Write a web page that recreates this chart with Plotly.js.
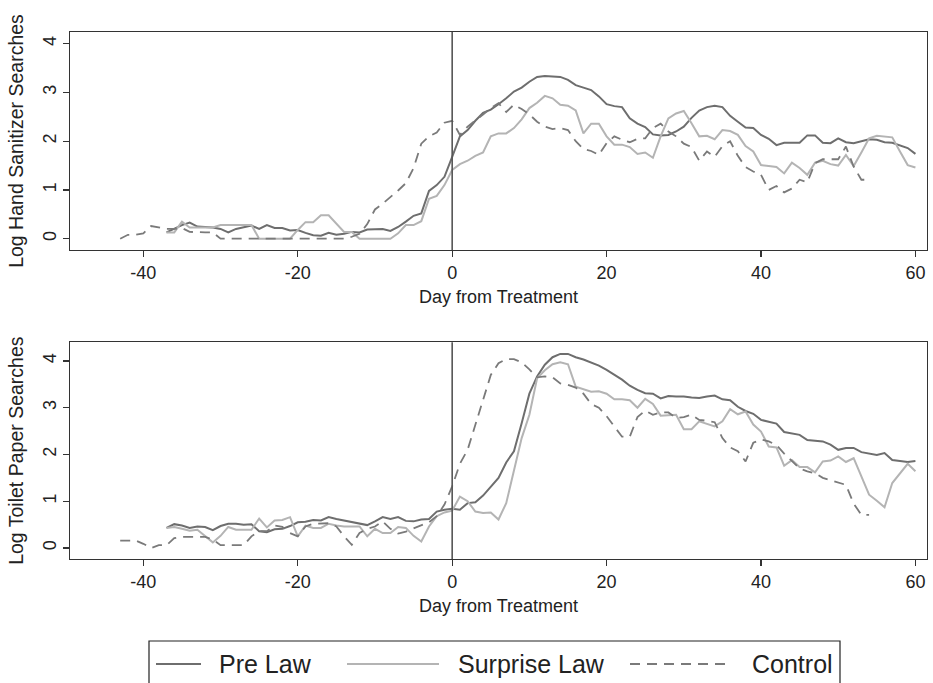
<!DOCTYPE html>
<html>
<head>
<meta charset="utf-8">
<script src="https://cdn.plot.ly/plotly-3.0.1.min.js"></script>
<style>html,body{margin:0;padding:0;background:#fff}#chart{width:933px;height:683px}</style>
</head>
<body>
<div id="chart"></div>
<script>
// ---- Data ----
var seriesNames = ["Pre Law", "Surprise Law", "Control"];
var xTickVals = [-40, -20, 0, 20, 40, 60];
var yTickVals = [0, 1, 2, 3, 4];
var xTitle = "Day from Treatment";
var topTitle = "Log Hand Sanitizer Searches";
var bottomTitle = "Log Toilet Paper Searches";

// first day of each series (one value per day afterwards)
var startPre = -37, startSurprise = -37, startControl = -43;

var handPre = [0.13,0.2,0.28,0.33,0.25,0.24,0.23,0.2,0.13,0.2,
  0.24,0.27,0.2,0.28,0.22,0.22,0.17,0.18,0.12,0.07,
  0.06,0.12,0.08,0.1,0.14,0.13,0.19,0.2,0.2,0.16,
  0.24,0.35,0.47,0.52,0.98,1.1,1.27,
  1.68,2.1,2.23,2.42,2.58,2.65,2.76,2.88,3.02,3.1,
  3.22,3.32,3.34,3.33,3.32,3.26,3.15,3.1,3.05,2.92,
  2.76,2.72,2.7,2.47,2.36,2.29,2.14,2.12,2.13,2.2,
  2.3,2.48,2.63,2.7,2.73,2.7,2.52,2.4,2.28,2.27,
  2.13,2.05,1.92,1.97,1.97,1.97,2.12,2.12,1.97,1.96,
  2.06,1.98,1.96,2.0,2.04,2.03,1.98,1.97,1.92,1.86,
  1.74];
var handSurprise = [0.13,0.13,0.35,0.23,0.23,0.23,0.23,0.28,0.28,0.28,
  0.28,0.28,0,0,0,0,0,0.18,0.34,0.34,
  0.48,0.48,0.3,0.14,0.14,0,0,0,0,0,
  0.11,0.28,0.28,0.36,0.82,0.88,1.1,
  1.41,1.53,1.6,1.7,1.77,2.1,2.16,2.16,2.27,2.45,
  2.68,2.79,2.93,2.88,2.75,2.73,2.63,2.16,2.36,2.36,
  2.1,1.93,1.93,1.88,1.74,1.77,1.66,2.1,2.47,2.57,
  2.62,2.37,2.1,2.11,2.04,2.23,2.21,2.13,1.9,1.79,
  1.51,1.49,1.47,1.34,1.56,1.45,1.31,1.56,1.6,1.53,
  1.5,1.72,1.49,1.77,2.06,2.11,2.1,2.08,1.79,1.51,
  1.46];
var handControl = [0,0.08,0.08,0.11,0.26,0.23,0.2,0.2,0.22,0.14,
  0.13,0.13,0.13,0,0,0,0,0,0,0,
  0,0,0,0,0,0,0,0,0,0,
  0.04,0.1,0.3,0.6,0.72,0.85,0.99,1.14,1.45,1.95,
  2.1,2.18,2.38,2.42,2.13,2.3,2.42,2.55,2.68,2.78,
  2.6,2.75,2.66,2.55,2.4,2.3,2.25,2.27,2.23,2.0,
  1.84,1.8,1.72,1.96,2.1,2.03,1.98,2.05,2.06,2.27,
  2.36,2.2,2.1,1.95,1.88,1.6,1.79,1.68,1.9,2.0,
  1.7,1.47,1.38,1.31,1.0,1.08,0.95,1.03,1.21,1.16,
  1.55,1.63,1.63,1.63,1.89,1.48,1.21,1.21];

var paperPre = [0.43,0.51,0.48,0.43,0.46,0.45,0.38,0.47,0.52,0.52,
  0.5,0.51,0.36,0.34,0.4,0.41,0.47,0.55,0.56,0.6,
  0.59,0.66,0.62,0.59,0.56,0.53,0.49,0.57,0.66,0.62,
  0.66,0.58,0.57,0.61,0.62,0.78,0.82,
  0.84,0.82,0.96,0.98,1.12,1.32,1.5,1.83,2.07,2.67,
  3.3,3.67,3.92,4.08,4.15,4.15,4.08,4.03,3.97,3.9,
  3.81,3.7,3.6,3.47,3.38,3.31,3.3,3.2,3.25,3.24,
  3.24,3.22,3.21,3.24,3.26,3.18,3.16,3.02,2.93,2.87,
  2.74,2.7,2.66,2.48,2.45,2.42,2.31,2.29,2.28,2.21,
  2.1,2.14,2.14,2.05,2.02,1.99,2.03,1.88,1.86,1.84,
  1.86];
var paperSurprise = [0.43,0.45,0.41,0.37,0.39,0.26,0.12,0.26,0.45,0.39,
  0.39,0.39,0.63,0.44,0.59,0.6,0.66,0.25,0.48,0.43,
  0.43,0.52,0.48,0.46,0.46,0.46,0.25,0.41,0.32,0.32,
  0.45,0.43,0.26,0.14,0.46,0.68,0.76,
  0.8,1.1,1.0,0.78,0.75,0.76,0.61,0.96,1.67,2.35,
  2.85,3.63,3.8,3.93,3.97,3.93,3.45,3.4,3.34,3.35,
  3.3,3.18,3.18,3.16,3.0,3.19,3.08,2.83,2.84,2.85,
  2.54,2.54,2.71,2.66,2.6,2.71,2.97,2.86,2.92,2.64,
  2.49,2.17,2.15,1.76,1.88,1.73,1.73,1.62,1.85,1.87,
  1.96,1.84,1.92,1.53,1.14,1.01,0.87,1.39,1.59,1.8,
  1.64];
var paperControl = [0.16,0.16,0.16,0.09,0,0.06,0.06,0.21,0.24,0.24,
  0.24,0.24,0.18,0.06,0.06,0.06,0.06,0.25,0.36,0.36,
  0.48,0.45,0.32,0.25,0.46,0.52,0.52,0.53,0.46,0.25,
  0.07,0.32,0.41,0.46,0.57,0.41,0.31,0.35,0.42,0.48,
  0.55,0.68,0.93,1.32,1.8,2.1,2.64,3.2,3.7,3.95,
  4.04,4.04,3.97,3.82,3.65,3.67,3.65,3.52,3.49,3.43,
  3.3,3.08,3.0,2.82,2.6,2.38,2.38,2.8,2.94,2.85,
  2.9,2.9,2.78,2.8,2.85,2.74,2.72,2.69,2.35,2.15,
  2.07,1.85,2.25,2.32,2.28,2.2,2.02,1.85,1.7,1.64,
  1.6,1.5,1.45,1.41,1.35,0.95,0.71,0.71];

// ---- Build chart ----
function days(start, n) { var a = []; for (var i = 0; i < n; i++) a.push(start + i); return a; }

var FONT = "Liberation Sans, Arial, Helvetica, sans-serif";
var styles = [
  {color: "#6e6e6e", width: 2, dash: "solid"},
  {color: "#b4b4b4", width: 2, dash: "solid"},
  {color: "#7a7a7a", width: 1.8, dash: "10px,7px"}
];

function tr(x, y, k, xa, ya) {
  return {x: x, y: y, type: "scatter", mode: "lines", name: seriesNames[k],
    line: {color: styles[k].color, width: styles[k].width, dash: styles[k].dash},
    xaxis: xa, yaxis: ya, showlegend: false, hoverinfo: "x+y"};
}

var data = [
  tr(days(startPre, handPre.length), handPre, 0, "x", "y"),
  tr(days(startSurprise, handSurprise.length), handSurprise, 1, "x", "y"),
  tr(days(startControl, handControl.length), handControl, 2, "x", "y"),
  tr(days(startPre, paperPre.length), paperPre, 0, "x2", "y2"),
  tr(days(startSurprise, paperSurprise.length), paperSurprise, 1, "x2", "y2"),
  tr(days(startControl, paperControl.length), paperControl, 2, "x2", "y2")
];

var axisLine = "#333333";
function xAxis(anchor, domainMatch) {
  return {anchor: anchor, range: [-49.5, 61.5], tickvals: xTickVals, ticktext: xTickVals.map(String),
    showgrid: false, zeroline: false, showline: true, mirror: true, linecolor: axisLine, linewidth: 1.3,
    ticks: "outside", ticklen: 6, tickcolor: axisLine, tickwidth: 1.3,
    tickfont: {family: FONT, size: 18, color: "#222"},
    title: {text: xTitle, font: {family: FONT, size: 18, color: "#222"}, standoff: 8}};
}
function yAxis(anchor, domain, range, title) {
  return {anchor: anchor, domain: domain, range: range, tickvals: yTickVals, ticktext: yTickVals.map(String),
    showgrid: false, zeroline: false, showline: true, mirror: true, linecolor: axisLine, linewidth: 1.3,
    ticks: "outside", ticklen: 6, tickcolor: axisLine, tickwidth: 1.3, tickangle: -90,
    tickfont: {family: FONT, size: 18, color: "#222"},
    title: {text: title, font: {family: FONT, size: 19.5, color: "#222"}, standoff: 10}};
}

var L = 70, R = 6, T = 32, B = 124, W = 933, H = 683;
var pw = W - L - R, ph = H - T - B;
function px2x(p) { return (p - L) / pw; }
function py2y(p) { return (H - B - p) / ph; }

var shapes = [
  {type: "line", xref: "x", yref: "y domain", x0: 0, x1: 0, y0: 0, y1: 1, line: {color: "#555", width: 1.6}},
  {type: "line", xref: "x2", yref: "y2 domain", x0: 0, x1: 0, y0: 0, y1: 1, line: {color: "#555", width: 1.6}},
  // legend frame
  {type: "rect", xref: "paper", yref: "paper", x0: px2x(149), x1: px2x(840), y0: py2y(641), y1: py2y(700),
   line: {color: "#222", width: 1.2}, fillcolor: "rgba(0,0,0,0)"}
];
var annotations = [];
var legendKeys = [[156, 201], [347, 439], [630, 730]];
var legendText = [217, 456, 750];
for (var k = 0; k < 3; k++) {
  shapes.push({type: "line", xref: "paper", yref: "paper", x0: px2x(legendKeys[k][0]), x1: px2x(legendKeys[k][1]),
    y0: py2y(664), y1: py2y(664), line: {color: styles[k].color, width: styles[k].width, dash: styles[k].dash}});
  annotations.push({xref: "paper", yref: "paper", x: px2x(legendText[k]), y: py2y(664), xanchor: "left", yanchor: "middle",
    text: seriesNames[k], showarrow: false, font: {family: FONT, size: 25, color: "#222"}});
}

var layout = {
  width: W, height: H, margin: {l: L, r: R, t: T, b: B},
  paper_bgcolor: "#fff", plot_bgcolor: "#fff",
  showlegend: false,
  xaxis: xAxis("y"),
  yaxis: yAxis("x", [0.5863, 1], [-0.232, 4.241], topTitle),
  xaxis2: xAxis("y2"),
  yaxis2: yAxis("x2", [0, 0.4112], [-0.235, 4.399], bottomTitle),
  shapes: shapes, annotations: annotations
};

Plotly.newPlot("chart", data, layout, {displayModeBar: false, staticPlot: true});
</script>
</body>
</html>
